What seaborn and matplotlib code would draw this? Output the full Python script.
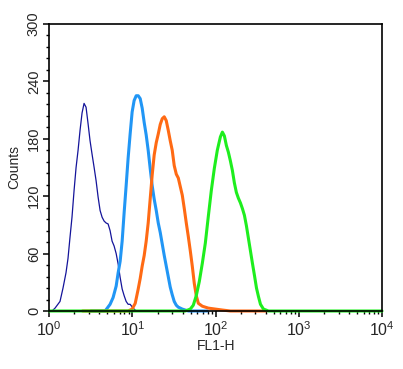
import numpy as np
import pandas as pd
import seaborn as sns
import matplotlib
matplotlib.use("Agg")
import matplotlib.pyplot as plt
from matplotlib.ticker import MultipleLocator, LogLocator, NullFormatter

# flow cytometry histograms: log10(FL1-H) positions and counts
navy_log = [0.0, 0.033, 0.069, 0.129, 0.165, 0.201, 0.225, 0.249, 0.273, 0.298, 0.322,
            0.346, 0.370, 0.394, 0.418, 0.442, 0.466, 0.490, 0.514, 0.539, 0.563,
            0.587, 0.611, 0.635, 0.659, 0.683, 0.707, 0.731, 0.755, 0.779, 0.804,
            0.828, 0.852, 0.876, 0.900, 0.924, 0.948, 0.972, 1.008, 1.045, 1.2]
navy_counts = [0, 0, 3, 10, 24, 40, 55, 77, 98, 126, 150,
               168, 189, 207, 217, 213, 196, 178, 164, 150, 136,
               119, 105, 98, 94, 92, 91, 84, 73, 68, 60,
               49, 35, 23, 16, 10, 7, 7, 3, 0, 0]

blue_log = [0.5, 0.671, 0.731, 0.767, 0.804, 0.828, 0.852, 0.876, 0.900, 0.924, 0.948,
            0.972, 0.996, 1.020, 1.045, 1.069, 1.093, 1.117, 1.141, 1.165, 1.189,
            1.213, 1.237, 1.261, 1.286, 1.310, 1.334, 1.358, 1.382, 1.406, 1.430,
            1.454, 1.478, 1.502, 1.527, 1.551, 1.599, 1.671, 1.9]
blue_counts = [0, 0, 7, 14, 26, 40, 52, 73, 103, 131, 160,
               185, 208, 220, 225, 225, 222, 212, 197, 184, 168,
               149, 131, 117, 105, 92, 82, 70, 58, 47, 36,
               25, 17, 10, 6, 4, 2, 0, 0]

orange_log = [0.4, 0.948, 0.996, 1.033, 1.069, 1.093, 1.117, 1.141, 1.165, 1.189, 1.213,
              1.237, 1.261, 1.286, 1.310, 1.334, 1.358, 1.382, 1.406, 1.430, 1.454,
              1.478, 1.502, 1.527, 1.551, 1.575, 1.599, 1.623, 1.647, 1.671, 1.695,
              1.719, 1.743, 1.767, 1.792, 1.840, 1.912, 1.996, 2.081, 2.177, 2.6]
orange_counts = [0, 0, 2, 8, 23, 34, 47, 58, 73, 92, 117,
                 142, 163, 176, 185, 195, 201, 203, 199, 189, 178,
                 168, 152, 143, 139, 130, 121, 107, 92, 78, 63,
                 47, 29, 16, 8, 5, 3, 2, 1, 0, 0]

green_log = [0.0, 1.635, 1.695, 1.731, 1.767, 1.804, 1.840, 1.876, 1.912, 1.948, 1.984,
             2.020, 2.057, 2.081, 2.105, 2.129, 2.153, 2.177, 2.201, 2.225, 2.249,
             2.273, 2.298, 2.322, 2.346, 2.370, 2.394, 2.418, 2.442, 2.467, 2.491,
             2.515, 2.539, 2.575, 2.636, 4.0]
green_counts = [0, 0, 2, 6, 16, 31, 50, 71, 99, 126, 149,
                168, 182, 187, 183, 173, 166, 157, 147, 134, 124,
                118, 113, 107, 100, 89, 76, 63, 50, 37, 24,
                15, 7, 2, 0, 0]

series = [
    ("navy", navy_log, navy_counts, "#14149a", 0.9),
    ("blue", blue_log, blue_counts, "#2196f5", 2.2),
    ("orange", orange_log, orange_counts, "#ff6a14", 2.2),
    ("green", green_log, green_counts, "#1eee1e", 2.2),
]

sns.set_style("white")
plt.rcParams["font.family"] = ["Liberation Sans", "DejaVu Sans"]
plt.rcParams["mathtext.fontset"] = "custom"
plt.rcParams["mathtext.rm"] = "Liberation Sans"

fig = plt.figure(figsize=(4.03, 3.69), dpi=100)
ax = fig.add_axes([0.1223, 0.1572, 0.8256, 0.7778])

for name, lg, cnt, col, lw in series:
    df = pd.DataFrame({"FL1-H": 10 ** np.array(lg), "Counts": cnt})
    sns.lineplot(data=df, x="FL1-H", y="Counts", ax=ax, color=col, linewidth=lw,
                 estimator=None, sort=False, clip_on=False)

ax.set_xscale("log")
ax.set_xlim(1, 1e4)
ax.set_ylim(0, 300)
ax.set_xticks([1, 10, 100, 1000, 10000])
ax.set_xticklabels([r"$10^{%d}$" % i for i in range(5)])
ax.xaxis.set_minor_locator(LogLocator(base=10, subs=np.arange(2, 10)))
ax.xaxis.set_minor_formatter(NullFormatter())
ax.set_yticks([0, 60, 120, 180, 240, 300])
ax.yaxis.set_minor_locator(MultipleLocator(12))
for lab in ax.get_yticklabels():
    lab.set_rotation(90)
    lab.set_va("center")

for sp in ax.spines.values():
    sp.set_visible(True)
    sp.set_color("black")
    sp.set_linewidth(1.2)

ax.tick_params(axis="both", which="major", direction="out", length=4, width=1.1,
               labelsize=10.5, color="black", pad=2)
ax.tick_params(axis="both", which="minor", direction="out", length=2.5, width=1.0,
               color="black")
ax.tick_params(axis="x", which="major", labelsize=11.5, pad=3)
ax.tick_params(axis="y", left=True, which="both")
ax.tick_params(axis="x", bottom=True, which="both")

ax.set_xlabel("FL1-H", fontsize=10, labelpad=0)
ax.set_ylabel("Counts", fontsize=10, labelpad=4)

fig.savefig("out.png", dpi=100)
